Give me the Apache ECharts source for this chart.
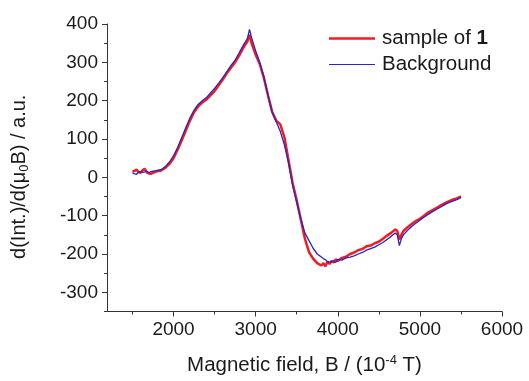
<!DOCTYPE html>
<html>
<head>
<meta charset="utf-8">
<script src="https://cdn.jsdelivr.net/npm/echarts@6/dist/echarts.min.js"></script>
<style>
  html, body { margin: 0; padding: 0; background: #fff; }
  #chart { width: 529px; height: 381px; }
</style>
</head>
<body>
<div id="chart"></div>
<script>
// magnetic field (10^-4 T)
var fieldB = [1500, 1525, 1550, 1575, 1600, 1625, 1650, 1675, 1700, 1725, 1750, 1775, 1800, 1850, 1900, 1950,
  2000, 2050, 2100, 2150, 2200, 2250, 2300, 2350, 2400, 2450,
  2500, 2550, 2600, 2650, 2700, 2750, 2800, 2850, 2900, 2925, 2950,
  3000, 3050, 3100, 3150, 3200, 3250, 3300, 3350, 3400, 3450,
  3500, 3550, 3600, 3650, 3700, 3750, 3800, 3825, 3850, 3875, 3900, 3925, 3950, 3975,
  4000, 4050, 4100, 4150, 4200, 4250, 4300, 4350, 4400, 4450,
  4500, 4550, 4600, 4650, 4700, 4725, 4750, 4775, 4800, 4850, 4900, 4950,
  5000, 5050, 5100, 5150, 5200, 5250, 5300, 5350, 5400, 5450, 5500];

// sample of 1
var sampleVals = [15, 17, 20, 14, 12, 19, 22, 13, 10, 9, 12, 14, 16, 18, 25, 35,
  50, 72, 97, 122, 148, 170, 185, 195, 203, 214,
  225, 240, 255, 272, 286, 300, 318, 338, 355, 372, 350,
  320, 296, 260, 214, 172, 148, 138, 105, 45, -15,
  -60, -110, -160, -195, -212, -224, -230, -224, -232, -220, -226, -218, -222, -214,
  -218, -210, -207, -200, -196, -190, -187, -180, -178, -172,
  -168, -160, -152, -145, -136, -140, -162, -150, -140, -130, -122, -114,
  -108, -100, -92, -86, -80, -74, -68, -63, -58, -55, -50];

// background
var bgVals = [12, 9, 8, 14, 15, 13, 14, 16, 12, 15, 16, 17, 18, 20, 28, 40,
  56, 78, 104, 130, 155, 175, 190, 200, 208, 220,
  232, 246, 260, 276, 292, 306, 325, 345, 362, 386, 365,
  330, 300, 262, 215, 170, 145, 120, 85, 38, -20,
  -65, -108, -145, -165, -185, -200, -208, -212, -215, -220, -222, -219, -218, -222,
  -214, -216, -210, -208, -205, -200, -196, -190, -186, -182,
  -176, -170, -162, -154, -145, -150, -178, -160, -150, -138, -128, -120,
  -112, -104, -97, -90, -84, -78, -72, -66, -62, -58, -53];

var xMajor = [2000, 3000, 4000, 5000, 6000];
var xMinor = [1500, 2500, 3500, 4500, 5500];
var yMajor = [-300, -200, -100, 0, 100, 200, 300, 400];
var yMinor = [-350, -250, -150, -50, 50, 150, 250, 350];

function pairs(xs, ys) {
  var out = [];
  for (var i = 0; i < xs.length; i++) out.push([xs[i], ys[i]]);
  return out;
}

var font = "Liberation Sans";
var axisColor = "#333";
var textColor = "#1a1a1a";
var chart = echarts.init(document.getElementById("chart"));

chart.setOption({
  animation: false,
  textStyle: { fontFamily: font },
  grid: { left: 107, right: 27, top: 24, bottom: 69 },
  legend: {
    orient: "vertical",
    left: 329,
    top: 28,
    padding: 0,
    itemWidth: 46,
    itemHeight: 14,
    itemGap: 5,
    textStyle: {
      fontFamily: font, fontSize: 20.5, color: textColor, lineHeight: 20, padding: [0, 0, 0, 2],
      rich: {
        n: { fontFamily: font, fontSize: 20.5, color: textColor, lineHeight: 20 },
        b: { fontFamily: font, fontSize: 20.5, color: textColor, lineHeight: 20, fontWeight: "bold" }
      }
    },
    formatter: function (name) {
      if (name === "sample of 1") return "{n|sample of }{b|1}";
      return "{n|" + name + "}";
    },
    data: [
      { name: "sample of 1", icon: "path://M0,0H46V2.6H0Z" },
      { name: "Background", icon: "path://M0,0H46V1.2H0Z" }
    ]
  },
  xAxis: [{
    type: "value",
    min: 1190,
    max: 6000,
    name: "Magnetic field, B / (10{sup|-4} T)",
    nameLocation: "middle",
    nameGap: 42,
    nameTextStyle: {
      fontFamily: font, fontSize: 20.5, color: textColor,
      rich: { sup: { fontFamily: font, fontSize: 13, color: textColor, verticalAlign: "top", lineHeight: 24 } }
    },
    axisLine: { show: true, onZero: false, lineStyle: { color: axisColor, width: 1 } },
    axisTick: { show: true, customValues: xMajor, length: 5, lineStyle: { color: axisColor } },
    axisLabel: {
      customValues: xMajor, fontFamily: font, fontSize: 19, color: textColor, margin: 9,
      formatter: function (v) { return String(v); }
    },
    splitLine: { show: false }
  }, {
    type: "value",
    min: 1190,
    max: 6000,
    position: "bottom",
    axisLine: { show: false, onZero: false },
    axisTick: { show: true, customValues: xMinor, length: 3, lineStyle: { color: axisColor } },
    axisLabel: { show: false },
    splitLine: { show: false }
  }],
  yAxis: [{
    type: "value",
    min: -350,
    max: 400,
    name: "d(Int.)/d(\u03bc{sub|0}B) / a.u.",
    nameLocation: "middle",
    nameRotate: 90,
    nameGap: 76,
    nameTextStyle: {
      fontFamily: font, fontSize: 20, color: textColor, padding: [0, 18, 0, 0],
      rich: { sub: { fontFamily: font, fontSize: 13, color: textColor, verticalAlign: "bottom", lineHeight: 23 } }
    },
    axisLine: { show: true, onZero: false, lineStyle: { color: axisColor, width: 1 } },
    axisTick: { show: true, customValues: yMajor, length: 5, lineStyle: { color: axisColor } },
    axisLabel: {
      customValues: yMajor, fontFamily: font, fontSize: 19, color: textColor, margin: 9,
      formatter: function (v) { return String(v); }
    },
    splitLine: { show: false }
  }, {
    type: "value",
    min: -350,
    max: 400,
    position: "left",
    axisLine: { show: false, onZero: false },
    axisTick: { show: true, customValues: yMinor, length: 3, lineStyle: { color: axisColor } },
    axisLabel: { show: false },
    splitLine: { show: false }
  }],
  series: [{
    name: "sample of 1",
    type: "line",
    data: pairs(fieldB, sampleVals),
    showSymbol: false,
    symbol: "none",
    color: "#ee1c24",
    lineStyle: { color: "#ee1c24", width: 2.5 }
  }, {
    name: "Background",
    type: "line",
    data: pairs(fieldB, bgVals),
    showSymbol: false,
    symbol: "none",
    color: "#2a24c0",
    lineStyle: { color: "#2a24c0", width: 1.3 }
  }]
});
</script>
</body>
</html>
